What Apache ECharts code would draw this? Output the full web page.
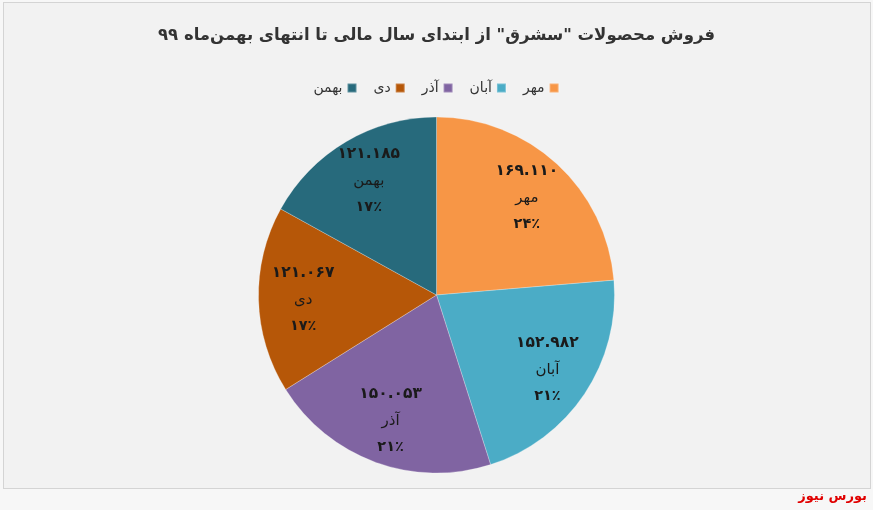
<!DOCTYPE html>
<html>
<head>
<meta charset="utf-8">
<script src="https://cdn.jsdelivr.net/npm/echarts@6/dist/echarts.min.js"></script>
<style>
html,body{margin:0;padding:0;background:#f7f7f7;}
#frame{position:absolute;left:3px;top:2px;width:866px;height:485px;border:1px solid #d4d4d4;background:#f2f2f2;}
#chart{position:absolute;left:0;top:0;width:873px;height:510px;}
</style>
</head>
<body>
<div id="frame"></div>
<div id="chart"></div>
<script>
const titleText = 'فروش محصولات "سشرق" از ابتدای سال مالی تا انتهای بهمن‌ماه ۹۹';
const categories = ['مهر', 'آبان', 'آذر', 'دی', 'بهمن'];
const sales = [169110, 152982, 150053, 121067, 121185];
const sliceColors = ['#F79646', '#4BACC6', '#8064A2', '#B65708', '#276A7C'];
const legendOrder = ['بهمن', 'دی', 'آذر', 'آبان', 'مهر'];
const sourceText = 'بورس نیوز';

const faDigits = '۰۱۲۳۴۵۶۷۸۹';
function toFa(s) { return String(s).replace(/[0-9]/g, d => faDigits[+d]); }
function fmtNum(v) { return toFa(String(v).replace(/\B(?=(\d{3})+(?!\d))/g, '.')); }
const total = sales.reduce((a, b) => a + b, 0);

const chart = echarts.init(document.getElementById('chart'), null, {renderer: 'canvas'});
const CY = 295, R = 178;
const FONT = '"DejaVu Sans", sans-serif';

chart.setOption({
  backgroundColor: 'transparent',
  color: sliceColors,
  animation: false,
  title: {
    text: titleText,
    left: 'center',
    top: 22,
    textStyle: {fontFamily: FONT, fontSize: 16.5, fontWeight: 'bold', color: '#333333'}
  },
  legend: {
    data: legendOrder,
    top: 76,
    left: 'center',
    align: 'right',
    itemWidth: 9,
    itemHeight: 9,
    itemGap: 16,
    icon: 'rect',
    textStyle: {fontFamily: FONT, fontSize: 14, color: '#333333', padding: [0, 0, 2, 0]}
  },
  graphic: [{
    type: 'text',
    right: 6,
    bottom: 7,
    style: {text: sourceText, fill: '#e00000', font: 'bold 13px ' + FONT}
  }],
  series: [{
    type: 'pie',
    center: ['50%', CY],
    radius: [0, R],
    startAngle: 90,
    clockwise: true,
    avoidLabelOverlap: false,
    itemStyle: {borderColor: 'rgba(255,255,255,0.25)', borderWidth: 1},
    label: {
      show: true,
      position: 'inside',
      fontFamily: FONT,
      color: '#1a1a1a',
      formatter: p => '{v|' + fmtNum(p.value) + '}\n{n|' + p.name + '}\n{p|' + toFa(Math.round(p.value / total * 100)) + '٪}',
      rich: {
        v: {fontFamily: FONT, fontSize: 15.5, fontWeight: 'bold', color: '#1a1a1a', lineHeight: 27},
        n: {fontFamily: FONT, fontSize: 15, color: '#1a1a1a', lineHeight: 27},
        p: {fontFamily: FONT, fontSize: 14.5, fontWeight: 'bold', color: '#1a1a1a', lineHeight: 25}
      }
    },
    labelLayout: function (params) {
      const r = params.labelRect;
      const cx = chart.getWidth() / 2;
      const lx = r.x + r.width / 2, ly = r.y + r.height / 2;
      return {dx: (lx - cx) * 0.45, dy: (ly - CY) * 0.45};
    },
    emphasis: {disabled: true},
    data: categories.map((c, i) => ({name: c, value: sales[i]}))
  }]
});
</script>
</body>
</html>
